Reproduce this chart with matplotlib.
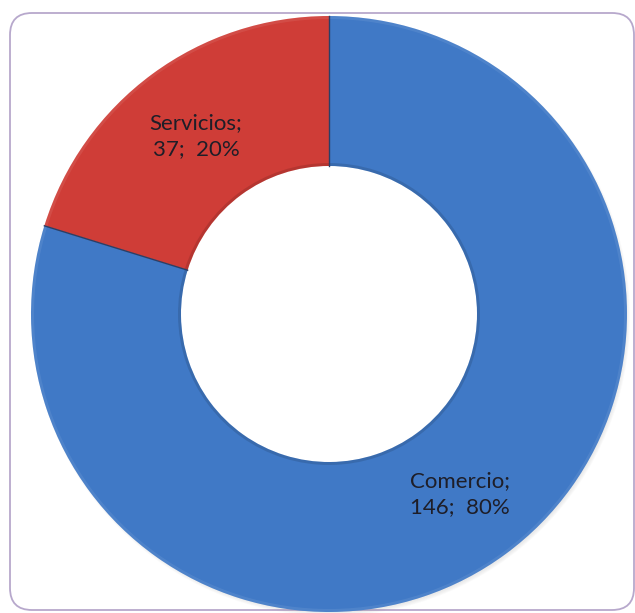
import numpy as np
import matplotlib.pyplot as plt
from matplotlib.patches import FancyBboxPatch, Wedge

# sectores y número de empresas
sectores = ["Comercio", "Servicios"]
empresas = [146, 37]
porcentajes = [80, 20]
colores = ["#4079c6", "#cf3d37"]

plt.rcParams["font.family"] = ["Lato", "DejaVu Sans"]

fig = plt.figure(figsize=(6.35, 6.13), dpi=100)
ax = fig.add_axes([0, 0, 1, 1])

# marco redondeado del gráfico
marco = FancyBboxPatch((10, 3), 624, 597, boxstyle="round,pad=0,rounding_size=22",
                       fc="white", ec="#b7a8cc", lw=1.3, zorder=0)
ax.add_patch(marco)

centro = (329, 299)
radio = 298
grosor = 150

# sombra suave del anillo
for k in range(6):
    ax.add_patch(Wedge((centro[0] + 2, centro[1] - 3), radio + 1 - k, 0, 360,
                       width=4, fc="#9a9a9a", ec="none", alpha=0.05, zorder=1))

wedges, _ = ax.pie(empresas, colors=colores, startangle=90, counterclock=False,
                   center=centro, radius=radio, frame=True,
                   wedgeprops=dict(width=grosor, edgecolor="none", zorder=2))

# relieve: borde exterior algo más claro y borde interior oscuro
for w in wedges:
    t1, t2 = w.theta1, w.theta2
    ax.add_patch(Wedge(centro, radio, t1, t2, width=3, fc="white", ec="none",
                       alpha=0.08, zorder=3))
    ax.add_patch(Wedge(centro, radio - grosor + 3, t1, t2, width=3, fc="black",
                       ec="none", alpha=0.12, zorder=3))
    # línea de separación entre sectores
    a = np.deg2rad(t1)
    r0, r1 = radio - grosor, radio
    ax.plot([centro[0] + r0 * np.cos(a), centro[0] + r1 * np.cos(a)],
            [centro[1] + r0 * np.sin(a), centro[1] + r1 * np.sin(a)],
            color="#2b3f66", lw=1.0, zorder=4)

ax.set_xlim(0, 635)
ax.set_ylim(0, 613)
ax.axis("off")

posiciones = [(460, 119), (196, 477)]
for nombre, n, p, (x, y) in zip(sectores, empresas, porcentajes, posiciones):
    ax.text(x, y, f"{nombre};\n{n};  {p}%", ha="center", va="center",
            fontsize=16, color="#1e1e28", linespacing=1.35, zorder=5)

fig.savefig("out.png", dpi=100)
